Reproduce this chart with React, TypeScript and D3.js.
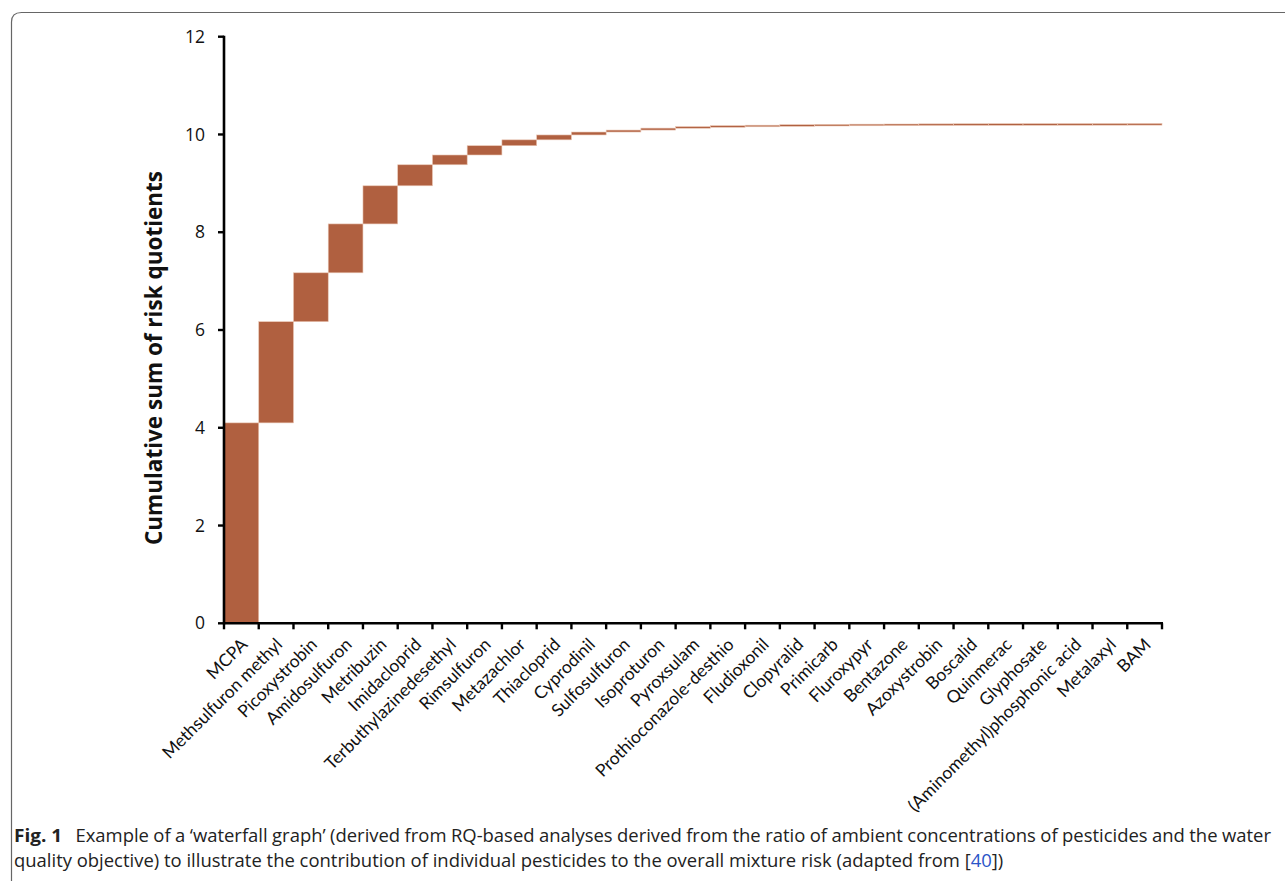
import React, { useLayoutEffect, useRef, useState } from "react";
import * as d3 from "d3";

const categories = [
  "MCPA", "Methsulfuron methyl", "Picoxystrobin", "Amidosulfuron", "Metribuzin",
  "Imidacloprid", "Terbuthylazinedesethyl", "Rimsulfuron", "Metazachlor", "Thiacloprid",
  "Cyprodinil", "Sulfosulfuron", "Isoproturon", "Pyroxsulam", "Prothioconazole-desthio",
  "Fludioxonil", "Clopyralid", "Primicarb", "Fluroxypyr", "Bentazone", "Azoxystrobin",
  "Boscalid", "Quinmerac", "Glyphosate", "(Aminomethyl)phosphonic acid", "Metalaxyl", "BAM",
];

// individual risk quotients (increments of the waterfall)
const rqValues = [
  4.1, 2.07, 1.0, 1.0, 0.78, 0.43, 0.2, 0.19, 0.12, 0.1, 0.06, 0.04, 0.04, 0.03, 0.02,
  0.01, 0.01, 0.006, 0.005, 0.003, 0.003, 0.002, 0.001, 0.001, 0.001, 0.001, 0.001,
];

const yTicks = [0, 2, 4, 6, 8, 10, 12];

const captionLine1Rest =
  "Example of a \u2018waterfall graph\u2019 (derived from RQ-based analyses derived from the ratio of ambient concentrations of pesticides and the water";
const captionLine2 =
  "quality objective) to illustrate the contribution of individual pesticides to the overall mixture risk (adapted from ";

export default function App() {
  const x0 = 224, x1 = 1162, yTop = 36.7, yBot = 623.3;
  const x = d3.scaleBand<string>().domain(categories).range([x0, x1]).padding(0);
  const y = d3.scaleLinear().domain([0, 12]).range([yBot, yTop]);
  const cum = Array.from(d3.cumsum(rqValues));
  const bw = x.bandwidth();
  const barColor = "#b06040";
  const boundaries = d3.range(categories.length + 1).map((i) => x0 + i * bw);

  const line1W = 1259;
  const line2W = 990;
  const cap1 = useRef<SVGTextElement>(null);
  const cap2 = useRef<SVGTextElement>(null);
  const [fit, setFit] = useState<{ s: number; ws: number }>({ s: 1, ws: 0 });
  useLayoutEffect(() => {
    const w1 = cap1.current ? cap1.current.getBBox().width : line1W;
    const w2 = cap2.current ? cap2.current.getBBox().width : line2W;
    const s = line2W / w2;
    const nSpaces = (captionLine1Rest.match(/ /g) || []).length;
    const ws = (line1W / s - w1) / nSpaces;
    setFit({ s, ws });
  }, []);

  const capFont = "'Open Sans', sans-serif";

  return (
    <svg
      width={1285}
      height={881}
      style={{ position: "absolute", left: 0, top: 0, background: "#fff" }}
    >
      {/* frame */}
      <path
        d="M11.5,900 L11.5,22 Q11.5,12.5 21.5,12.5 L1300,12.5"
        fill="none"
        stroke="#666"
        strokeWidth={1.2}
      />

      {/* bars */}
      {categories.map((c, i) => {
        const start = i === 0 ? 0 : cum[i - 1];
        const end = cum[i];
        const top = y(end);
        const h = Math.max(y(start) - top, 1.6);
        return (
          <rect
            key={c}
            x={x(c)}
            y={top}
            width={bw}
            height={h}
            fill={barColor}
            stroke="#e9c6b4"
            strokeWidth={0.6}
          />
        );
      })}

      {/* y axis */}
      <line x1={x0} x2={x0} y1={yTop - 1} y2={yBot + 1} stroke="#000" strokeWidth={2.6} />
      {yTicks.map((t) => (
        <g key={t}>
          <line x1={x0 - 6} x2={x0} y1={y(t)} y2={y(t)} stroke="#000" strokeWidth={2.4} />
          <text
            x={x0 - 19}
            y={y(t)}
            dy="0.35em"
            textAnchor="end"
            fontFamily="'Open Sans', sans-serif"
            fontSize={17.5}
            fill="#111"
          >
            {t}
          </text>
        </g>
      ))}

      {/* x axis */}
      <line x1={x0 - 1} x2={x1 + 1} y1={yBot} y2={yBot} stroke="#000" strokeWidth={2.6} />
      {boundaries.map((bx, i) => (
        <line key={i} x1={bx} x2={bx} y1={yBot} y2={yBot + 6} stroke="#000" strokeWidth={2.4} />
      ))}
      {categories.map((c) => {
        const cx = (x(c) as number) + bw / 2;
        return (
          <text
            key={c}
            transform={`translate(${cx + 3},${yBot + 18}) rotate(-45)`}
            textAnchor="end"
            dy="0.35em"
            fontFamily="Lato, sans-serif"
            fontSize={17.5}
            fill="#111"
          >
            {c}
          </text>
        );
      })}

      {/* y title */}
      <text
        transform={`translate(162,358) rotate(-90)`}
        textAnchor="middle"
        fontFamily="'Open Sans', sans-serif"
        fontWeight="bold"
        fontSize={22.5}
        fill="#111"
      >
        Cumulative sum of risk quotients
      </text>

      {/* caption */}
      <g transform={`translate(14,842) scale(${fit.s},1)`}>
        <text
          ref={cap1}
          x={0}
          y={0}
          fontFamily={capFont}
          fontSize={17.5}
          fill="#222"
        >
          <tspan fontWeight="bold" fontSize={18}>Fig. 1</tspan>
          <tspan style={{ wordSpacing: `${fit.ws}px` }}>
            {"\u00a0\u00a0\u00a0" + captionLine1Rest}
          </tspan>
        </text>
      </g>
      <g transform={`translate(14,867) scale(${fit.s},1)`}>
        <text ref={cap2} x={0} y={0} fontFamily={capFont} fontSize={17.5} fill="#222">
          <tspan>{captionLine2 + "["}</tspan>
          <tspan fill="#2a55c8">40</tspan>
          <tspan>])</tspan>
        </text>
      </g>
    </svg>
  );
}
